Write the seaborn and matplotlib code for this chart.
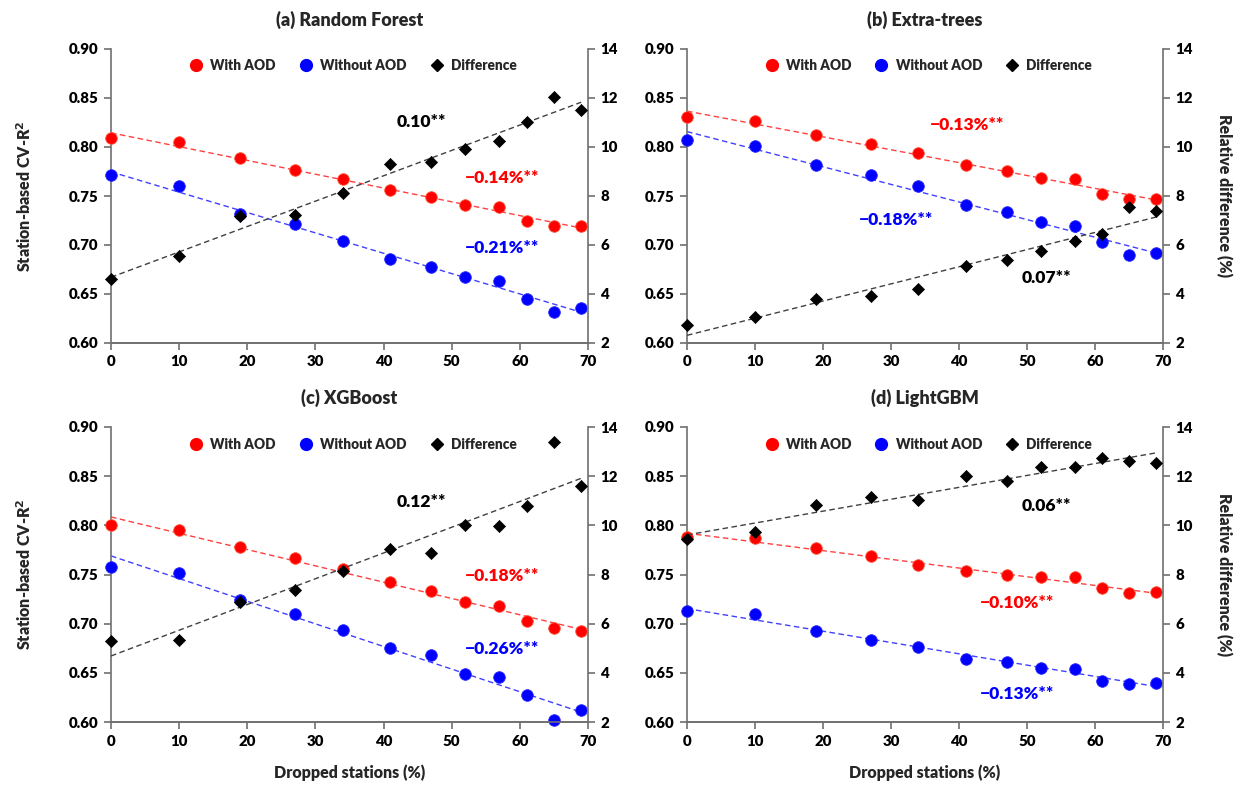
import numpy as np
import seaborn as sns
import matplotlib.pyplot as plt
from matplotlib.lines import Line2D

sns.set_style("ticks")
plt.rcParams['font.family'] = ['Lato', 'DejaVu Sans']
plt.rcParams['font.weight'] = 'heavy'
plt.rcParams['axes.labelweight'] = 'heavy'
plt.rcParams['axes.titleweight'] = 'heavy'

# dropped stations (%)
dropped = [0, 10, 19, 27, 34, 41, 47, 52, 57, 61, 65, 69]
titles = ['(a) Random Forest', '(b) Extra-trees', '(c) XGBoost', '(d) LightGBM']

# station-based CV-R2 with / without AOD, relative difference (%)
rf_with = [0.809, 0.805, 0.789, 0.777, 0.767, 0.756, 0.749, 0.741, 0.739, 0.725, 0.719, 0.719]
rf_without = [0.771, 0.760, 0.732, 0.721, 0.704, 0.686, 0.678, 0.667, 0.663, 0.645, 0.632, 0.636]
rf_diff = [4.61, 5.54, 7.18, 7.21, 8.13, 9.29, 9.40, 9.93, 10.26, 11.01, 12.04, 11.51]

et_with = [0.831, 0.827, 0.812, 0.803, 0.794, 0.782, 0.776, 0.768, 0.767, 0.752, 0.747, 0.747]
et_without = [0.807, 0.801, 0.782, 0.771, 0.760, 0.741, 0.734, 0.723, 0.719, 0.703, 0.690, 0.692]
et_diff = [2.73, 3.07, 3.78, 3.92, 4.19, 5.13, 5.39, 5.76, 6.15, 6.45, 7.54, 7.38]

xgb_with = [0.800, 0.795, 0.778, 0.767, 0.756, 0.742, 0.733, 0.722, 0.718, 0.703, 0.696, 0.693]
xgb_without = [0.758, 0.752, 0.724, 0.710, 0.694, 0.675, 0.668, 0.649, 0.646, 0.627, 0.602, 0.612]
xgb_diff = [5.28, 5.35, 6.87, 7.38, 8.16, 9.02, 8.88, 10.03, 9.99, 10.77, 13.39, 11.59]

lgb_with = [0.788, 0.787, 0.777, 0.769, 0.760, 0.754, 0.749, 0.747, 0.747, 0.736, 0.731, 0.732]
lgb_without = [0.713, 0.710, 0.693, 0.683, 0.676, 0.664, 0.661, 0.655, 0.654, 0.642, 0.639, 0.640]
lgb_diff = [9.46, 9.74, 10.81, 11.14, 11.04, 12.01, 11.80, 12.39, 12.39, 12.72, 12.62, 12.52]

with_all = [rf_with, et_with, xgb_with, lgb_with]
without_all = [rf_without, et_without, xgb_without, lgb_without]
diff_all = [rf_diff, et_diff, xgb_diff, lgb_diff]

# trend slope labels
diff_slopes = ['0.10**', '0.07**', '0.12**', '0.06**']
with_slopes = ['\u22120.14%**', '\u22120.13%**', '\u22120.18%**', '\u22120.10%**']
without_slopes = ['\u22120.21%**', '\u22120.18%**', '\u22120.26%**', '\u22120.13%**']

# label positions (x, y on left axis)
diff_pos = [(45.6, 0.826), (52.9, 0.666), (45.6, 0.824), (52.9, 0.820)]
with_pos = [(57.4, 0.768), (41.2, 0.822), (57.4, 0.748), (48.5, 0.721)]
without_pos = [(57.4, 0.697), (30.7, 0.726), (57.4, 0.674), (48.5, 0.628)]

RED = '#ff0000'
BLUE = '#0000ff'
GRAY = '#707070'

fig = plt.figure(figsize=(12.42, 7.87), dpi=100)
rects = [
    (111 / 1242, 1 - 343 / 787, 477 / 1242, 294 / 787),
    (687 / 1242, 1 - 343 / 787, 476 / 1242, 294 / 787),
    (111 / 1242, 1 - 722 / 787, 477 / 1242, 295 / 787),
    (687 / 1242, 1 - 722 / 787, 476 / 1242, 295 / 787),
]

dash = (0, (4, 2.5))
for i in range(4):
    ax = fig.add_axes(rects[i])
    ax2 = ax.twinx()

    sns.regplot(x=dropped, y=with_all[i], ax=ax, scatter=False, ci=None,
                color='#ff4040', line_kws=dict(ls=dash, lw=1))
    sns.regplot(x=dropped, y=without_all[i], ax=ax, scatter=False, ci=None,
                color='#4040ff', line_kws=dict(ls=dash, lw=1))
    sns.scatterplot(x=dropped, y=with_all[i], ax=ax, color=RED, s=70,
                    edgecolor='#ff5a3c', linewidth=0.6, zorder=3, clip_on=False, legend=False)
    sns.scatterplot(x=dropped, y=without_all[i], ax=ax, color=BLUE, s=70,
                    edgecolor='#2a2aff', linewidth=0.6, zorder=3, clip_on=False, legend=False)

    sns.regplot(x=dropped, y=diff_all[i], ax=ax2, scatter=False, ci=None,
                color='#404040', line_kws=dict(ls=dash, lw=1))
    sns.scatterplot(x=dropped, y=diff_all[i], ax=ax2, color='black', marker='D', s=38,
                    edgecolor='black', linewidth=0.5, zorder=3, clip_on=False, legend=False)

    ax.set_xlim(0, 70)
    ax.set_ylim(0.60, 0.90)
    ax2.set_ylim(2, 14)
    ax.set_xticks(range(0, 71, 10))
    ax.set_yticks(np.arange(0.60, 0.901, 0.05))
    ax.set_yticklabels([f'{v:.2f}' for v in np.arange(0.60, 0.901, 0.05)])
    ax2.set_yticks(range(2, 15, 2))

    for a in (ax, ax2):
        a.spines['top'].set_visible(False)
        for s in ('left', 'right', 'bottom'):
            a.spines[s].set_color(GRAY)
            a.spines[s].set_linewidth(1.2)
        a.tick_params(direction='out', length=5, width=1.2, color=GRAY,
                      labelsize=10.8, labelcolor='black', pad=4)
    ax.spines['right'].set_visible(False)
    ax2.spines['left'].set_visible(False)

    ax.set_title(titles[i], fontsize=13, pad=17)

    if i % 2 == 0:
        ax.set_ylabel('Station-based CV-R$^\\mathbf{2}$', fontsize=11.5, labelpad=25)
    else:
        ax2.set_ylabel('Relative difference (%)', fontsize=11.5, rotation=270, labelpad=28)
    if i >= 2:
        ax.set_xlabel('Dropped stations (%)', fontsize=11.5, labelpad=12)

    ax2.text(*diff_pos[i], diff_slopes[i], transform=ax.transData, color='black',
             fontsize=12.6, ha='center', va='center')
    ax2.text(*with_pos[i], with_slopes[i], transform=ax.transData, color=RED,
             fontsize=12.6, ha='center', va='center')
    ax2.text(*without_pos[i], without_slopes[i], transform=ax.transData, color=BLUE,
             fontsize=12.6, ha='center', va='center')

    handles = [
        Line2D([], [], ls='', marker='o', ms=8.5, color=RED, label='With AOD'),
        Line2D([], [], ls='', marker='o', ms=8.5, color=BLUE, label='Without AOD'),
        Line2D([], [], ls='', marker='D', ms=6, color='black', label='Difference'),
    ]
    ax2.legend(handles=handles, loc='center', bbox_to_anchor=(0.5, 0.945 if i < 2 else 0.94),
               ncol=3, frameon=False, fontsize=9.8, handletextpad=0.05,
               columnspacing=1.2, borderaxespad=0)

fig.savefig('out.png', dpi=100)
